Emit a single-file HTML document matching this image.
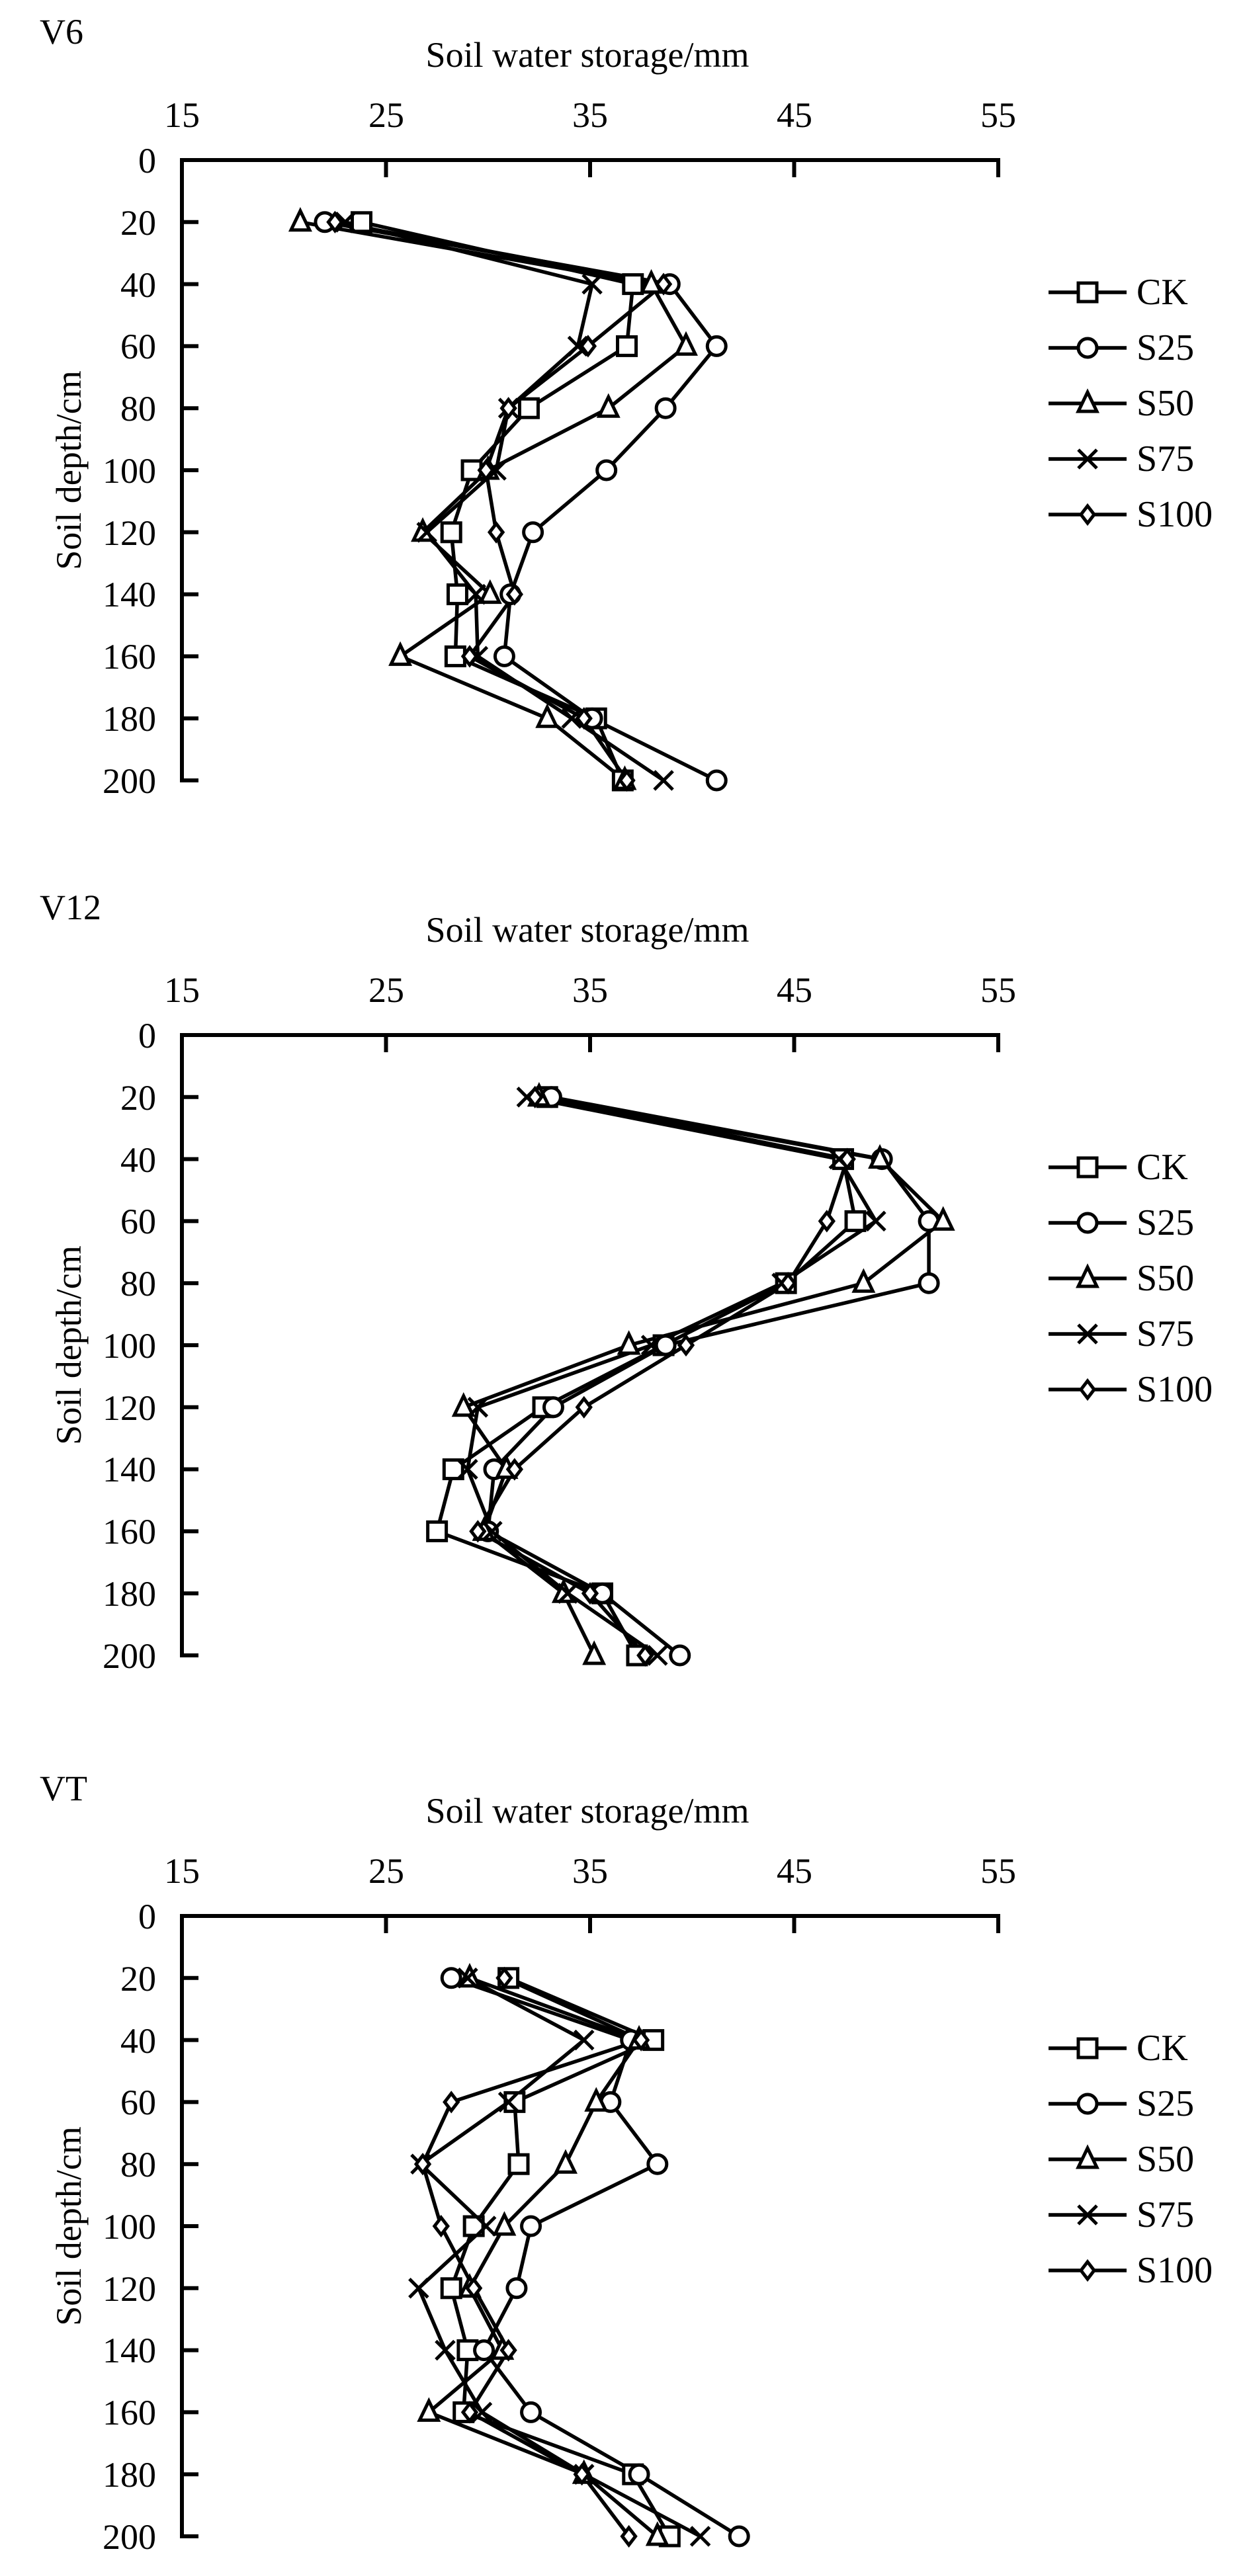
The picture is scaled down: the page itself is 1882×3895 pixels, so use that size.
<!DOCTYPE html>
<html><head><meta charset="utf-8"><style>
html,body{margin:0;padding:0;background:#fff}
svg{display:block}
text{font-family:"Liberation Serif",serif;fill:#000}
</style></head><body>
<svg id="s" width="1882" height="3895" viewBox="0 0 1882 3895" xmlns="http://www.w3.org/2000/svg">
<g id="c0" transform="translate(0,0)">
<text x="60" y="66" font-size="54">V6</text>
<text x="888" y="101" font-size="54" text-anchor="middle">Soil water storage/mm</text>
<text x="275" y="192" font-size="54" text-anchor="middle">15</text><text x="584" y="192" font-size="54" text-anchor="middle">25</text><text x="892" y="192" font-size="54" text-anchor="middle">35</text><text x="1201" y="192" font-size="54" text-anchor="middle">45</text><text x="1509" y="192" font-size="54" text-anchor="middle">55</text>
<text x="236" y="261" font-size="54" text-anchor="end">0</text><text x="236" y="355" font-size="54" text-anchor="end">20</text><text x="236" y="449" font-size="54" text-anchor="end">40</text><text x="236" y="542" font-size="54" text-anchor="end">60</text><text x="236" y="636" font-size="54" text-anchor="end">80</text><text x="236" y="730" font-size="54" text-anchor="end">100</text><text x="236" y="824" font-size="54" text-anchor="end">120</text><text x="236" y="917" font-size="54" text-anchor="end">140</text><text x="236" y="1011" font-size="54" text-anchor="end">160</text><text x="236" y="1105" font-size="54" text-anchor="end">180</text><text x="236" y="1199" font-size="54" text-anchor="end">200</text>
<text transform="translate(122,711) rotate(-90)" font-size="54" text-anchor="middle">Soil depth/cm</text>
<text x="1718" y="460" font-size="56">CK</text><text x="1718" y="544" font-size="56">S25</text><text x="1718" y="628" font-size="56">S50</text><text x="1718" y="712" font-size="56">S75</text><text x="1718" y="796" font-size="56">S100</text>
</g>
<g id="c1" transform="translate(0,1323)">
<text x="60" y="67" font-size="54">V12</text>
<text x="888" y="101" font-size="54" text-anchor="middle">Soil water storage/mm</text>
<text x="275" y="192" font-size="54" text-anchor="middle">15</text><text x="584" y="192" font-size="54" text-anchor="middle">25</text><text x="892" y="192" font-size="54" text-anchor="middle">35</text><text x="1201" y="192" font-size="54" text-anchor="middle">45</text><text x="1509" y="192" font-size="54" text-anchor="middle">55</text>
<text x="236" y="261" font-size="54" text-anchor="end">0</text><text x="236" y="355" font-size="54" text-anchor="end">20</text><text x="236" y="449" font-size="54" text-anchor="end">40</text><text x="236" y="542" font-size="54" text-anchor="end">60</text><text x="236" y="636" font-size="54" text-anchor="end">80</text><text x="236" y="730" font-size="54" text-anchor="end">100</text><text x="236" y="824" font-size="54" text-anchor="end">120</text><text x="236" y="917" font-size="54" text-anchor="end">140</text><text x="236" y="1011" font-size="54" text-anchor="end">160</text><text x="236" y="1105" font-size="54" text-anchor="end">180</text><text x="236" y="1199" font-size="54" text-anchor="end">200</text>
<text transform="translate(122,711) rotate(-90)" font-size="54" text-anchor="middle">Soil depth/cm</text>
<text x="1718" y="460" font-size="56">CK</text><text x="1718" y="544" font-size="56">S25</text><text x="1718" y="628" font-size="56">S50</text><text x="1718" y="712" font-size="56">S75</text><text x="1718" y="796" font-size="56">S100</text>
</g>
<g id="c2" transform="translate(0,2655)">
<text x="60" y="67" font-size="54">VT</text>
<text x="888" y="101" font-size="54" text-anchor="middle">Soil water storage/mm</text>
<text x="275" y="192" font-size="54" text-anchor="middle">15</text><text x="584" y="192" font-size="54" text-anchor="middle">25</text><text x="892" y="192" font-size="54" text-anchor="middle">35</text><text x="1201" y="192" font-size="54" text-anchor="middle">45</text><text x="1509" y="192" font-size="54" text-anchor="middle">55</text>
<text x="236" y="261" font-size="54" text-anchor="end">0</text><text x="236" y="355" font-size="54" text-anchor="end">20</text><text x="236" y="449" font-size="54" text-anchor="end">40</text><text x="236" y="542" font-size="54" text-anchor="end">60</text><text x="236" y="636" font-size="54" text-anchor="end">80</text><text x="236" y="730" font-size="54" text-anchor="end">100</text><text x="236" y="824" font-size="54" text-anchor="end">120</text><text x="236" y="917" font-size="54" text-anchor="end">140</text><text x="236" y="1011" font-size="54" text-anchor="end">160</text><text x="236" y="1105" font-size="54" text-anchor="end">180</text><text x="236" y="1199" font-size="54" text-anchor="end">200</text>
<text transform="translate(122,711) rotate(-90)" font-size="54" text-anchor="middle">Soil depth/cm</text>
<text x="1718" y="460" font-size="56">CK</text><text x="1718" y="544" font-size="56">S25</text><text x="1718" y="628" font-size="56">S50</text><text x="1718" y="712" font-size="56">S75</text><text x="1718" y="796" font-size="56">S100</text>
</g>
</svg>
<script>
var NS="http://www.w3.org/2000/svg";
var data=[
{CK:[23.8,37.1,36.8,32.0,29.2,28.2,28.5,28.4,35.3,36.6],
S25:[22.0,38.9,41.2,38.7,35.8,32.2,31.1,30.8,35.1,41.2],
S50:[20.8,38.0,39.7,35.9,30.0,26.8,30.1,25.7,32.9,36.7],
S75:[23.0,35.1,34.4,31.0,30.4,27.0,29.4,29.5,34.1,38.6],
S100:[22.5,38.6,34.9,31.0,29.9,30.4,31.3,29.1,34.7,36.8]},
{CK:[32.9,47.4,48.0,44.6,38.6,32.7,28.3,27.5,35.6,37.3],
S25:[33.1,49.3,51.6,51.6,38.7,33.2,30.3,30.0,35.6,39.4],
S50:[32.5,49.2,52.3,48.4,36.9,28.8,30.9,29.8,33.7,35.2],
S75:[31.9,47.2,49.0,44.4,38.0,29.5,29.0,30.2,33.9,38.3],
S100:[32.3,47.6,46.6,44.7,39.7,34.7,31.3,29.5,35.0,37.7]},
{CK:[31.0,38.1,31.3,31.5,29.3,28.2,29.0,28.8,37.1,38.9],
S25:[28.2,37.0,36.0,38.3,32.1,31.4,29.8,32.1,37.4,42.3],
S50:[29.1,37.4,35.3,33.8,30.8,29.1,30.7,27.1,34.7,38.3],
S75:[29.0,34.7,31.0,26.7,29.9,26.6,27.9,29.7,34.7,40.4],
S100:[30.8,37.5,28.2,26.8,27.7,29.3,31.0,29.1,34.6,36.9]}];
var keys=["CK","S25","S50","S75","S100"];
function X(v){return 275+(v-15)*30.85}
function Y(d){return 242+d*4.69}
function el(g,t,a){var e=document.createElementNS(NS,t);for(var k in a)e.setAttribute(k,a[k]);g.appendChild(e);return e}
function marker(g,k,x,y){
 var st={stroke:"#000","stroke-width":5,fill:"#fff"};
 if(k=="CK"){el(g,"rect",Object.assign({x:x-14,y:y-14,width:28,height:28},st));}
 else if(k=="S25"){el(g,"circle",Object.assign({cx:x,cy:y,r:14},st));}
 else if(k=="S50"){el(g,"polygon",Object.assign({points:(x)+","+(y-17)+" "+(x-14)+","+(y+12)+" "+(x+14)+","+(y+12),"stroke-linejoin":"miter"},st));}
 else if(k=="S75"){el(g,"path",{d:"M"+(x-14)+" "+(y-14)+"L"+(x+14)+" "+(y+14)+"M"+(x+14)+" "+(y-14)+"L"+(x-14)+" "+(y+14),stroke:"#000","stroke-width":5,fill:"none"});}
 else {el(g,"polygon",Object.assign({points:x+","+(y-13)+" "+(x+10)+","+y+" "+x+","+(y+13)+" "+(x-10)+","+y},st));}
}
for(var c=0;c<3;c++){
 var g=document.getElementById("c"+c);
 el(g,"path",{d:"M275 1183 L275 242 L1512 242",stroke:"#000","stroke-width":6,fill:"none"});
 for(var i=1;i<=4;i++){var x=X(15+10*i);el(g,"line",{x1:x,y1:242,x2:x,y2:268,stroke:"#000","stroke-width":6});}
 for(var j=1;j<=10;j++){var y=Y(20*j);el(g,"line",{x1:275,y1:y,x2:300,y2:y,stroke:"#000","stroke-width":6});}
 keys.forEach(function(k){
  var v=data[c][k],p="";
  for(var i=0;i<10;i++)p+=(i?"L":"M")+X(v[i]).toFixed(1)+" "+Y(20*(i+1)).toFixed(1);
  el(g,"path",{d:p,stroke:"#000","stroke-width":5.5,fill:"none","stroke-linejoin":"round"});
 });
 keys.forEach(function(k){var v=data[c][k];for(var i=0;i<10;i++)marker(g,k,X(v[i]),Y(20*(i+1)));});
 keys.forEach(function(k,i){var y=442+84*i;el(g,"line",{x1:1585,y1:y,x2:1703,y2:y,stroke:"#000","stroke-width":5.5});marker(g,k,1644,y);});
}
</script>
</body></html>
